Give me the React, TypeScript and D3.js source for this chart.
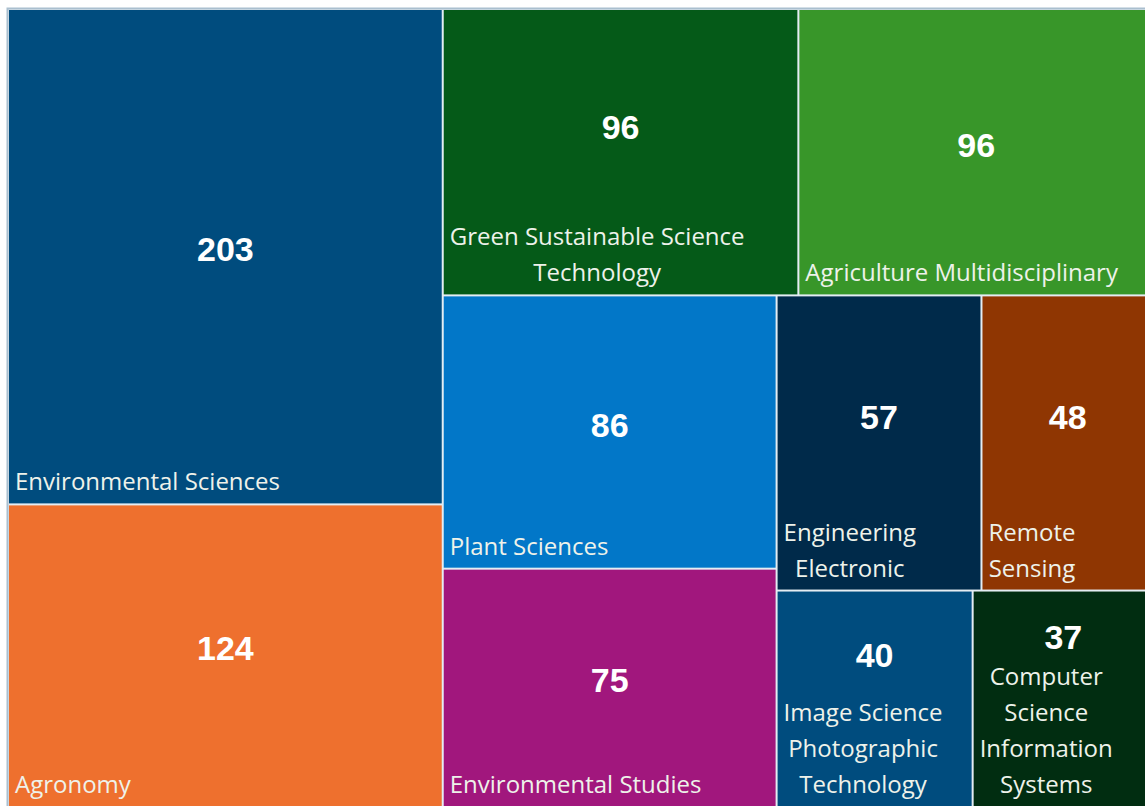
import React, { useEffect, useRef } from 'react';
import * as d3 from 'd3';

const categories = [
  'Environmental Sciences',
  'Agronomy',
  'Green Sustainable Science Technology',
  'Agriculture Multidisciplinary',
  'Plant Sciences',
  'Environmental Studies',
  'Engineering Electronic',
  'Remote Sensing',
  'Image Science Photographic Technology',
  'Computer Science Information Systems',
];
const counts = [203, 124, 96, 96, 86, 75, 57, 48, 40, 37];
const colors = [
  '#004c7e', '#ee702e', '#055a18', '#389629', '#0277c8',
  '#a1177d', '#002a4a', '#8f3602', '#004c7e', '#012d11',
];

const dims = { width: 1145, height: 806, left: 9, top: 10, mapW: 1144, mapH: 796 };
const labelFont = '"Open Sans", "Noto Sans", sans-serif';
const labelSize = 24;
const lineH = 36;

const App: React.FC = () => {
  const svgRef = useRef<SVGSVGElement | null>(null);

  useEffect(() => {
    const svg = d3.select(svgRef.current);
    svg.selectAll('*').remove();

    const root = d3
      .hierarchy({ name: 'root', children: categories.map((c, i) => ({ name: c, value: counts[i], color: colors[i] })) } as any)
      .sum((d: any) => d.value || 0);

    d3.treemap<any>()
      .size([dims.mapW, dims.mapH])
      .tile(d3.treemapSquarify.ratio(1))
      .paddingInner(2)(root);

    svg.append('rect')
      .attr('x', 7.5).attr('y', 8.5)
      .attr('width', dims.width).attr('height', dims.height)
      .attr('fill', '#e4edf3')
      .attr('stroke', '#aabfcf')
      .attr('stroke-width', 2);

    const g = svg.append('g').attr('transform', `translate(${dims.left},${dims.top})`);

    // hidden measurer for word wrapping
    const meas = svg.append('text')
      .attr('font-family', labelFont)
      .attr('font-size', labelSize)
      .attr('visibility', 'hidden');
    const textW = (s: string) => {
      meas.text(s);
      return (meas.node() as SVGTextElement).getComputedTextLength();
    };

    const leaves = root.leaves() as any[];
    leaves.forEach((d) => {
      const w = d.x1 - d.x0;
      const h = d.y1 - d.y0;
      const cell = g.append('g').attr('transform', `translate(${d.x0},${d.y0})`);
      cell.append('rect').attr('width', w).attr('height', h).attr('fill', d.data.color);

      // wrap label
      const words = d.data.name.split(' ');
      const lines: string[] = [];
      let cur = '';
      words.forEach((wd: string) => {
        const test = cur ? cur + ' ' + wd : wd;
        if (cur && textW(test) > w - 14) {
          lines.push(cur);
          cur = wd;
        } else cur = test;
      });
      if (cur) lines.push(cur);
      const blockW = d3.max(lines, (l) => textW(l)) || 0;
      const cx = 6 + blockW / 2;
      const lastBase = h - 13;
      const firstBase = lastBase - (lines.length - 1) * lineH;

      cell.append('text')
        .attr('font-family', labelFont)
        .attr('font-size', labelSize)
        .attr('fill', '#eef2ea')
        .attr('text-anchor', 'middle')
        .selectAll('tspan')
        .data(lines)
        .enter()
        .append('tspan')
        .attr('x', cx)
        .attr('y', (_l, i) => firstBase + i * lineH)
        .text((l) => l);

      const labelTop = firstBase - 26;
      cell.append('text')
        .attr('x', w / 2)
        .attr('y', labelTop / 2 + 12)
        .attr('dominant-baseline', 'central')
        .attr('text-anchor', 'middle')
        .attr('font-family', '"Liberation Sans", Arial, sans-serif')
        .attr('font-weight', 'bold')
        .attr('font-size', 34)
        .attr('fill', '#ffffff')
        .text(d.data.value);
    });

    meas.remove();
  }, []);

  return (
    <svg
      ref={svgRef}
      width={dims.width}
      height={dims.height}
      style={{ position: 'absolute', left: 0, top: 0, background: '#ffffff' }}
    />
  );
};

export default App;
